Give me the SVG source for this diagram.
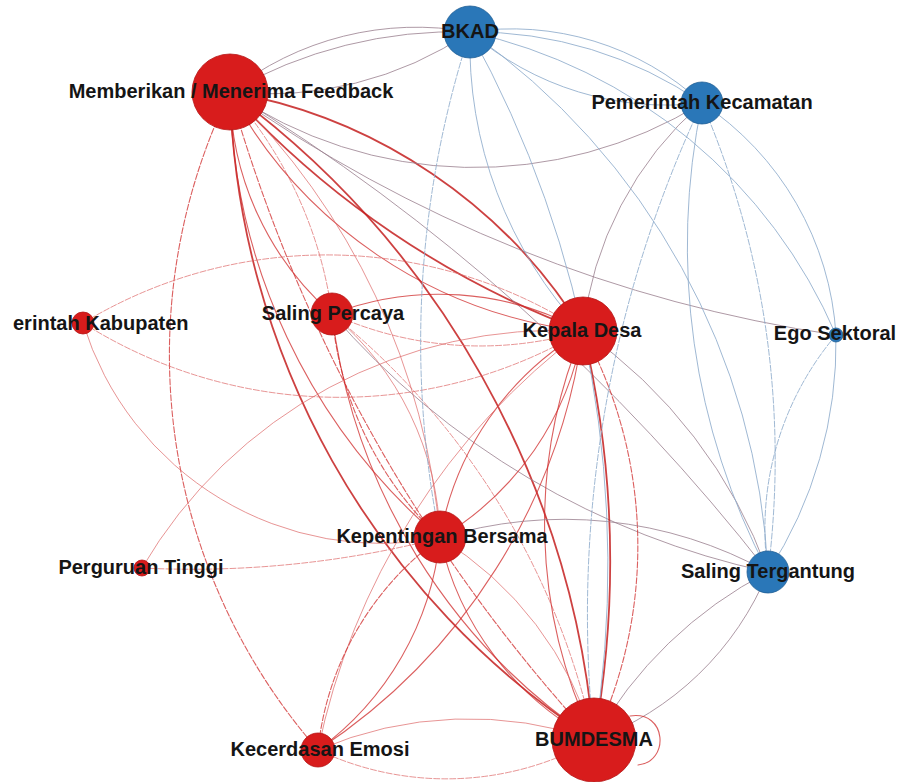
<svg xmlns="http://www.w3.org/2000/svg" width="898" height="782" viewBox="0 0 898 782">
<style>
.e{fill:none;stroke-linecap:round}
.r{stroke:#cf2a2a;stroke-width:1.1;opacity:0.75}
.rt{stroke:#c42020;stroke-width:1.8;opacity:0.85}
.rl{stroke:#dd6a6a;stroke-width:0.9;opacity:0.8}
.m{stroke:#9a7f8e;stroke-width:1;opacity:0.8}
.b{stroke:#8eaccb;stroke-width:1;opacity:0.85}
.d{stroke-dasharray:6 2}
.nr{fill:#d81c1c;stroke:#b51515;stroke-width:0.8}
.nb{fill:#2a77b8;stroke:#215f95;stroke-width:0.8}
text{font-family:"Liberation Sans",Arial,Helvetica,sans-serif;font-weight:bold;font-size:20px;fill:#151515;text-anchor:middle}
</style>
<rect width="898" height="782" fill="#ffffff"/>
<g id="connectors">
<!-- Feedback -->
<path class="e r" d="M230 92 A300 300 0 0 0 332 314"/>
<path class="e rl d" d="M230 92 A420 420 0 0 1 332 314"/>
<path class="e rt" d="M230 92 A520 520 0 0 1 583 331"/>
<path class="e r" d="M230 92 A460 460 0 0 0 583 331"/>
<path class="e rt" d="M230 92 A900 900 0 0 0 583 331"/>
<path class="e rt" d="M230 92 A800 800 0 0 0 594 740"/>
<path class="e rt" d="M230 92 A900 900 0 0 1 594 740"/>
<path class="e r d" d="M230 92 A1600 1600 0 0 0 594 740"/>
<path class="e r" d="M230 92 A600 600 0 0 0 440 538"/>
<path class="e rl" d="M230 92 A700 700 0 0 1 440 538"/>
<path class="e r d" d="M230 92 A600 600 0 0 0 318 750"/>
<path class="e m" d="M230 92 A300 300 0 0 1 470 32"/>
<path class="e m" d="M230 92 A450 450 0 0 1 470 32"/>
<path class="e m" d="M230 92 A360 360 0 0 0 470 32"/>
<path class="e m" d="M230 92 A433 433 0 0 0 702 103"/>
<path class="e m" d="M230 92 A1400 1400 0 0 0 836 335"/>
<path class="e m" d="M230 92 A2000 2000 0 0 1 768 572"/>
<!-- Saling Percaya -->
<path class="e r" d="M332 314 A300 300 0 0 1 583 331"/>
<path class="e rl d" d="M332 314 A360 360 0 0 0 583 331"/>
<path class="e r d" d="M332 314 A350 350 0 0 0 440 538"/>
<path class="e rl" d="M332 314 A300 300 0 0 1 440 538"/>
<path class="e r" d="M332 314 A600 600 0 0 0 594 740"/>
<path class="e rl d" d="M332 314 A750 750 0 0 1 594 740"/>
<path class="e m" d="M332 314 A800 800 0 0 0 768 572"/>
<!-- Kepala Desa -->
<path class="e r" d="M583 331 A300 300 0 0 1 440 538"/>
<path class="e r" d="M583 331 A300 300 0 0 0 440 538"/>
<path class="e r" d="M583 331 A500 500 0 0 0 594 740"/>
<path class="e r d" d="M583 331 A450 450 0 0 1 594 740"/>
<path class="e rt" d="M583 331 A1000 1000 0 0 1 594 740"/>
<path class="e r" d="M583 331 A600 600 0 0 1 318 750"/>
<path class="e rl" d="M583 331 A700 700 0 0 0 318 750"/>
<path class="e m" d="M583 331 A500 500 0 0 1 768 572"/>
<!-- Kabupaten / Perguruan -->
<path class="e rl d" d="M83 323 A470 470 0 0 1 583 331"/>
<path class="e rl d" d="M83 323 A480 480 0 0 0 583 331"/>
<path class="e rl" d="M83 323 A312 312 0 0 0 440 538"/>
<path class="e rl" d="M142 568 A480 480 0 0 1 583 331"/>
<path class="e rl d" d="M142 568 A1000 1000 0 0 0 440 538"/>
<!-- Kepentingan Bersama -->
<path class="e r" d="M440 538 A300 300 0 0 1 318 750"/>
<path class="e r d" d="M440 538 A300 300 0 0 0 318 750"/>
<path class="e r" d="M440 538 A300 300 0 0 0 594 740"/>
<path class="e rl" d="M440 538 A350 350 0 0 1 594 740"/>
<path class="e m" d="M440 538 A420 420 0 0 1 768 572"/>
<!-- Kecerdasan Emosi -->
<path class="e rl d" d="M318 750 A300 300 0 0 0 594 740"/>
<path class="e rl" d="M318 750 A380 380 0 0 1 594 740"/>
<!-- BUMDESMA -->
<path class="e m" d="M594 740 A300 300 0 0 0 768 572"/>
<path class="e m" d="M594 740 A420 420 0 0 1 768 572"/>
<path class="e r" d="M630 716 C667 710 670 762 638 765"/>
<!-- blue nodes -->
<path class="e m" d="M702 103 A350 350 0 0 0 583 331"/>
<path class="e b d" d="M702 103 A1200 1200 0 0 0 594 740"/>
<path class="e b" d="M470 32 A1100 1100 0 0 1 594 740"/>
<path class="e b d" d="M470 32 A1000 1000 0 0 0 440 538"/>
<path class="e b" d="M470 32 A420 420 0 0 0 583 331"/>
<path class="e b" d="M470 32 A280 280 0 0 1 702 103"/>
<path class="e b" d="M470 32 A400 400 0 0 1 702 103"/>
<path class="e b" d="M470 32 A300 300 0 0 0 702 103"/>
<path class="e b" d="M470 32 A520 520 0 0 1 836 335"/>
<path class="e b" d="M470 32 A700 700 0 0 1 768 572"/>
<path class="e b" d="M702 103 A300 300 0 0 1 836 335"/>
<path class="e b d" d="M702 103 A900 900 0 0 1 768 572"/>
<path class="e b" d="M702 103 A700 700 0 0 0 768 572"/>
<path class="e b d" d="M768 572 A300 300 0 0 1 836 335"/>
<path class="e b" d="M768 572 A420 420 0 0 0 836 335"/>
</g>
<g id="node-bkad"><circle class="nb" cx="470" cy="32" r="26"/><text x="470" y="38">BKAD</text></g>
<g id="node-kecamatan"><circle class="nb" cx="702" cy="103" r="21"/><text x="702" y="109">Pemerintah Kecamatan</text></g>
<g id="node-feedback"><circle class="nr" cx="230" cy="92" r="38"/><text x="231" y="98">Memberikan / Menerima Feedback</text></g>
<g id="node-kabupaten"><circle class="nr" cx="83" cy="323" r="11"/><text x="13" y="330" style="text-anchor:start">erintah Kabupaten</text></g>
<g id="node-percaya"><circle class="nr" cx="332" cy="314" r="21"/><text x="333" y="320">Saling Percaya</text></g>
<g id="node-kepala"><circle class="nr" cx="583" cy="331" r="34"/><text x="582" y="337">Kepala Desa</text></g>
<g id="node-ego"><circle class="nb" cx="836" cy="335" r="7"/><text x="835" y="340">Ego Sektoral</text></g>
<g id="node-perguruan"><circle class="nr" cx="142" cy="568" r="8"/><text x="141" y="574">Perguruan Tinggi</text></g>
<g id="node-kepentingan"><circle class="nr" cx="440" cy="537" r="26"/><text x="442" y="543">Kepentingan Bersama</text></g>
<g id="node-tergantung"><circle class="nb" cx="768" cy="572" r="21"/><text x="768" y="578">Saling Tergantung</text></g>
<g id="node-kecerdasan"><circle class="nr" cx="318" cy="750" r="17"/><text x="320" y="756">Kecerdasan Emosi</text></g>
<g id="node-bumdesma"><circle class="nr" cx="594" cy="740" r="42"/><text x="594" y="746">BUMDESMA</text></g>
</svg>
